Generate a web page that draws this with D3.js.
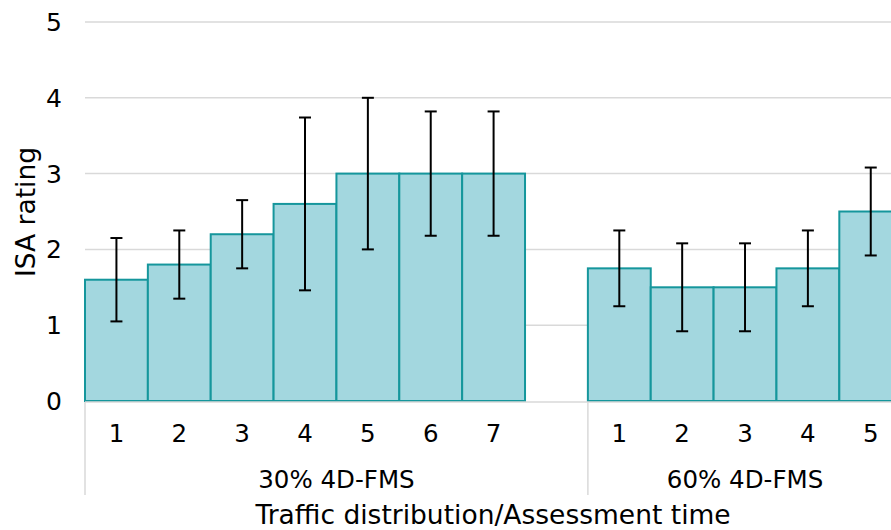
<!DOCTYPE html>
<html>
<head>
<meta charset="utf-8">
<script src="https://cdn.jsdelivr.net/npm/d3@7"></script>
<style>
  html, body { margin: 0; padding: 0; background: #fff; overflow: hidden; }
  svg { display: block; font-family: "DejaVu Sans", Verdana, sans-serif; }
</style>
</head>
<body>
<svg id="chart" width="891" height="530"></svg>
<script>
// Mean ISA rating per assessment time, with standard deviation
const groups = ["30% 4D-FMS", "60% 4D-FMS"];
const times30 = ["1", "2", "3", "4", "5", "6", "7"];
const means30 = [1.6, 1.8, 2.2, 2.6, 3.0, 3.0, 3.0];
const sd30 = [0.55, 0.45, 0.45, 1.14, 1.0, 0.82, 0.82];
const times60 = ["1", "2", "3", "4", "5"];
const means60 = [1.75, 1.5, 1.5, 1.75, 2.5];
const sd60 = [0.5, 0.58, 0.58, 0.5, 0.58];
const yTicks = [0, 1, 2, 3, 4, 5];

// Build category rows; a blank slot separates the two groups
const rows = [];
times30.forEach((t, i) => rows.push({ key: "a" + t, group: 0, label: t, mean: means30[i], sd: sd30[i] }));
rows.push({ key: "gap", group: -1, label: "", mean: null, sd: null });
times60.forEach((t, i) => rows.push({ key: "b" + t, group: 1, label: t, mean: means60[i], sd: sd60[i] }));

const svg = d3.select("#chart");
const plotLeft = 85, plotTop = 22, plotBottom = 401;
const step = 62.86;
const labelSize = 24.5, titleSize = 26.5;

const x = d3.scaleBand()
  .domain(rows.map(d => d.key))
  .range([plotLeft, plotLeft + step * rows.length])
  .paddingInner(0).paddingOuter(0);

const y = d3.scaleLinear().domain([0, 5]).range([plotBottom, plotTop]);

// Gridlines
svg.append("g")
  .selectAll("line")
  .data(yTicks.filter(v => v > 0))
  .join("line")
  .attr("x1", plotLeft).attr("x2", 891)
  .attr("y1", d => y(d)).attr("y2", d => y(d))
  .attr("stroke", "#d9d9d9").attr("stroke-width", 1.5);

// Y tick labels
svg.append("g")
  .selectAll("text")
  .data(yTicks)
  .join("text")
  .attr("x", 62).attr("y", d => y(d))
  .attr("dy", "0.36em")
  .attr("text-anchor", "end")
  .attr("font-size", 25)
  .attr("fill", "#000")
  .text(d => d);

// Bars
const data = rows.filter(d => d.mean !== null);
svg.append("g")
  .selectAll("rect")
  .data(data)
  .join("rect")
  .attr("x", d => x(d.key))
  .attr("y", d => y(d.mean))
  .attr("width", x.bandwidth())
  .attr("height", d => y(0) - y(d.mean))
  .attr("fill", "#a3d7df")
  .attr("stroke", "#15969c")
  .attr("stroke-width", 2);

// Category axis line
svg.append("line")
  .attr("x1", plotLeft).attr("x2", 891)
  .attr("y1", y(0) + 1).attr("y2", y(0) + 1)
  .attr("stroke", "#d9d9d9").attr("stroke-width", 1.5);

// Error bars
const cap = 6;
const eb = svg.append("g").attr("stroke", "#000").attr("stroke-width", 2);
data.forEach(d => {
  const cx = x(d.key) + x.bandwidth() / 2;
  const hi = y(d.mean + d.sd), lo = y(d.mean - d.sd);
  eb.append("line").attr("x1", cx).attr("x2", cx).attr("y1", hi).attr("y2", lo);
  eb.append("line").attr("x1", cx - cap).attr("x2", cx + cap).attr("y1", hi).attr("y2", hi);
  eb.append("line").attr("x1", cx - cap).attr("x2", cx + cap).attr("y1", lo).attr("y2", lo);
});

// Time labels
svg.append("g")
  .selectAll("text")
  .data(data)
  .join("text")
  .attr("x", d => x(d.key) + x.bandwidth() / 2)
  .attr("y", 442)
  .attr("text-anchor", "middle")
  .attr("font-size", labelSize)
  .text(d => d.label);

// Group separators and labels
const gStart0 = x("a1");
const gStart1 = x("b1");
const gEnd1 = x("b5") + x.bandwidth();
[gStart0, gStart1].forEach(px => {
  svg.append("line")
    .attr("x1", px).attr("x2", px)
    .attr("y1", y(0) + 1).attr("y2", 495)
    .attr("stroke", "#d9d9d9").attr("stroke-width", 1.5);
});
svg.append("text")
  .attr("x", (gStart0 + gStart1) / 2).attr("y", 488)
  .attr("text-anchor", "middle").attr("font-size", labelSize)
  .text(groups[0]);
svg.append("text")
  .attr("x", (gStart1 + gEnd1) / 2).attr("y", 488)
  .attr("text-anchor", "middle").attr("font-size", labelSize)
  .text(groups[1]);

// Axis titles
svg.append("text")
  .attr("x", 493).attr("y", 523.5)
  .attr("text-anchor", "middle").attr("font-size", titleSize)
  .text("Traffic distribution/Assessment time");

svg.append("text")
  .attr("transform", "translate(35,212) rotate(-90)")
  .attr("text-anchor", "middle").attr("font-size", titleSize)
  .text("ISA rating");
</script>
</body>
</html>
